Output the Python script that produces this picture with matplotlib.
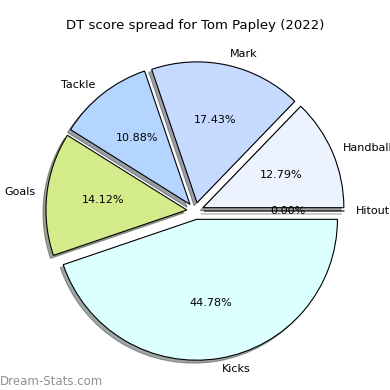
import matplotlib
matplotlib.use("Agg")
import matplotlib.pyplot as plt

labels = ["Hitout", "Handball", "Mark", "Tackle", "Goals", "Kicks"]
values = [0.00, 12.79, 17.43, 10.88, 14.12, 44.78]
colors = ["#f4f4ff", "#edf2ff", "#c6d9ff", "#b3d5ff", "#d4eb8c", "#dcffff"]
explode = [0.06, 0.06, 0.06, 0.06, 0.06, 0.06]

fig = plt.figure(figsize=(3.9, 3.9), dpi=100)
ax = fig.add_axes([0.049, 0.0075, 0.903, 0.903])
ax.pie(values, labels=labels, colors=colors, explode=explode, autopct="%1.2f%%",
       shadow={"ox": -0.015, "oy": -0.015}, startangle=0, counterclock=True,
       labeldistance=1.08,
       wedgeprops=dict(edgecolor="black", linewidth=0.8),
       textprops=dict(fontsize=8))
ax.set_aspect("equal")
fig.suptitle("DT score spread for Tom Papley (2022)", fontsize=9.5, y=0.952)
fig.text(0.0, 0.013, "Dream-Stats.com", color="#909090", fontsize=8.5)
fig.savefig("out.png", dpi=100)
